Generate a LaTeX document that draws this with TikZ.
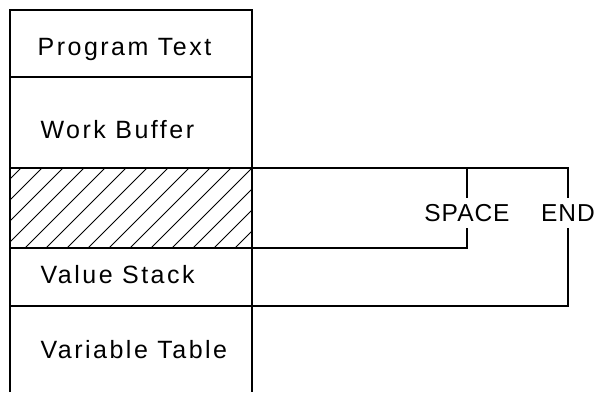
\documentclass[tikz,border=0pt]{standalone}
\usepackage{fontspec}
\setmainfont{Liberation Sans}
\usetikzlibrary{positioning}

\begin{document}
\begin{tikzpicture}[x=1pt, y=-1pt, line width=1.2pt,
    area/.style={anchor=base west, inner sep=0pt,
                 font=\fontsize{25}{28}\selectfont\addfontfeature{LetterSpace=10}},
    tag/.style={inner sep=6pt, text height=17.5pt, text depth=0pt,
                font=\fontsize{24.5}{28}\selectfont\addfontfeature{LetterSpace=4}},
    hatch/.style={line width=0.9pt}]
\useasboundingbox (0,0) rectangle (595,392);
% memory layout
\draw (10,392) -- (10,10) -- (252,10) -- (252,392);
\draw (10,77) -- (252,77);
\draw (10,168) -- (252,168);
\draw (10,248) -- (252,248);
\draw (10,306) -- (252,306);
\begin{scope}
    \clip (10,168) rectangle (252,248);
    \foreach \x in {-80,-59,...,260}
        \draw[hatch] (\x,248) -- ++(80,-80);
\end{scope}
\node[area] (prog)  at (37,55)  {Program Text};
\node[area] (work)  at (40,138) {Work Buffer};
\node[area] (stack) at (40,283) {Value Stack};
\node[area] (vars)  at (40,358) {Variable Table};
% free space and end markers
\coordinate (freetop) at (252,168);
\coordinate (freebot) at (252,248);
\coordinate (stackbot) at (252,306);
\node[tag] (space) at (467,213) {SPACE};
\node[tag] (end)   at (568,213) {END};
\draw (freetop) -| (end.north);
\draw (space.north) -- (space.north |- freetop);
\draw (freebot) -| (space.south);
\draw (stackbot) -| (end.south);
\end{tikzpicture}
\end{document}
